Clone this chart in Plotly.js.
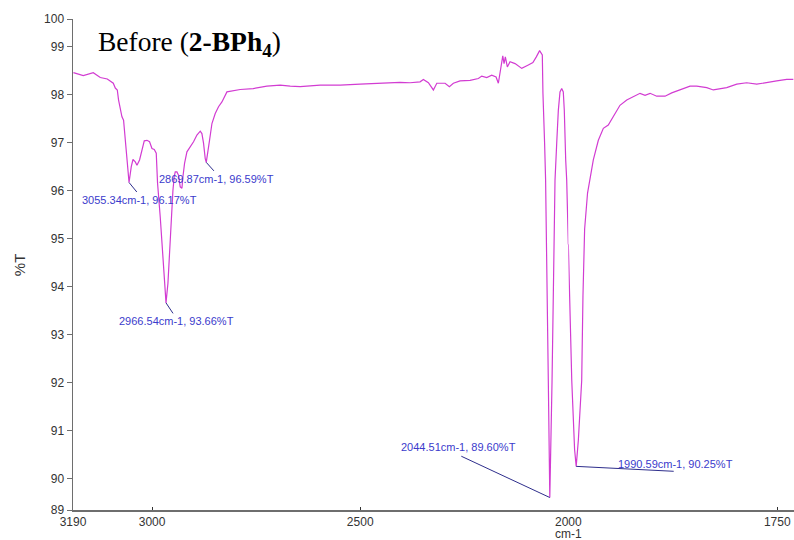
<!DOCTYPE html>
<html>
<head>
<meta charset="utf-8">
<script src="https://cdn.plot.ly/plotly-3.0.1.min.js"></script>
<style>
  html, body { margin: 0; padding: 0; background: #ffffff; }
  #chart { width: 794px; height: 540px; }
</style>
</head>
<body>
<div id="chart"></div>
<script>
// ---- data ----
const wavenumber = [
  3189, 3165.3, 3141.3, 3124.5, 3107.6, 3093.2, 3088.4, 3083.6, 3080.5, 3072.4,
  3068.5, 3064.4, 3060.3, 3056.5, 3055.34, 3050.0, 3045.9, 3040.4, 3036.3, 3030.1,
  3024.3, 3018.8, 3012.3, 3006.1, 3000.3, 2994.8, 2990.0, 2986.9, 2980.4, 2974.9,
  2970.8, 2966.54, 2961.9, 2958.1, 2954.0, 2949.9, 2946.8, 2944.4, 2940.3, 2936.4,
  2932.4, 2928.3, 2925.9, 2922.0, 2916.3, 2908.3, 2900.4, 2892.3, 2884.3, 2880.3,
  2876.4, 2872.3, 2869.87, 2862.0, 2856.2, 2848.3, 2840.4, 2832.2, 2820.2, 2788.3,
  2757.1, 2724.2, 2692.2, 2668.2, 2644.2, 2596.2, 2548.2, 2500.2, 2452.2, 2404.2,
  2380.2, 2356.2, 2348.2, 2336.2, 2324.2, 2316.0, 2296.1, 2285.8, 2276.2, 2260.1,
  2236.0, 2216.1, 2208.0, 2196.0, 2184.0, 2173.6, 2168.1, 2164.0, 2157.5, 2154.4,
  2151.3, 2146.5, 2140.0, 2128.0, 2111.9, 2096.1, 2085.1, 2076.9, 2069.0, 2062.5,
  2061.0, 2057.0, 2054.6, 2048.1, 2044.51, 2039.1, 2032.0, 2027.9, 2024.0, 2020.0,
  2015.9, 2012.1, 2009.7, 2006.3, 2003.9, 2000, 1995.9, 1992.5, 1990.59, 1988.0,
  1984.0, 1982.5, 1980.5, 1977.0, 1974.0, 1970.1, 1964.1, 1958.1, 1952.2, 1946.2,
  1938.2, 1930.1, 1922.2, 1914.2, 1908.2, 1902.2, 1894.2, 1884.3, 1876.3, 1866.4,
  1854.4, 1846.4, 1834.4, 1826.5, 1818.5, 1810.5, 1798.5, 1786.6, 1774.6, 1762.6,
  1750.7, 1738.7, 1730.8
];
const transmittance = [
  98.46, 98.40, 98.46, 98.36, 98.33, 98.24, 98.14, 98.10, 97.89, 97.54,
  97.47, 97.05, 96.64, 96.32, 96.17, 96.50, 96.65, 96.60, 96.53, 96.64,
  96.85, 97.04, 97.05, 97.02, 96.88, 96.86, 96.78, 96.16, 95.45, 94.76,
  94.28, 93.66, 94.07, 94.76, 95.45, 96.01, 96.29, 96.39, 96.39, 96.32,
  96.08, 96.05, 96.29, 96.57, 96.81, 96.91, 97.02, 97.16, 97.24, 97.19,
  96.99, 96.67, 96.59, 97.05, 97.40, 97.61, 97.75, 97.85, 98.06, 98.11,
  98.13, 98.18, 98.20, 98.18, 98.17, 98.20, 98.20, 98.22, 98.24, 98.26,
  98.25, 98.27, 98.32, 98.25, 98.10, 98.24, 98.24, 98.17, 98.24, 98.29,
  98.30, 98.34, 98.39, 98.36, 98.41, 98.37, 98.24, 98.44, 98.81, 98.65,
  98.79, 98.58, 98.69, 98.65, 98.55, 98.62, 98.67, 98.79, 98.92, 98.83,
  98.03, 96.99, 96.22, 92.04, 89.60, 92.04, 96.22, 96.99, 97.68, 98.06,
  98.13, 98.06, 97.68, 96.64, 96.22, 94.88, 92.04, 90.60, 90.25, 90.80,
  92.04, 93.80, 95.20, 95.95, 96.22, 96.64, 97.05, 97.30, 97.37, 97.54,
  97.78, 97.89, 97.96, 98.03, 97.99, 98.03, 97.97, 97.97, 98.04, 98.11,
  98.18, 98.18, 98.15, 98.10, 98.13, 98.15, 98.22, 98.25, 98.22, 98.26,
  98.29, 98.32, 98.32
];
// labelled peaks
const peakWavenumber = [3055.34, 2966.54, 2869.87, 2044.51, 1990.59];
const peakTransmittance = [96.17, 93.66, 96.59, 89.60, 90.25];

// axis ticks
const xTickVals1 = [3190, 3000, 2500, 2000];
const xTickText1 = ['3190', '3000', '2500', '2000'];
const xTickVals2 = [1750];
const xTickText2 = ['1750'];
const yTickVals = [89.34, 90, 91, 92, 93, 94, 95, 96, 97, 98, 99, 99.58];
const yTickText = ['89', '90', '91', '92', '93', '94', '95', '96', '97', '98', '99', '100'];

const titleText = 'Before (<b>2-BPh<sub>4</sub></b>)';
const xTitle = 'cm-1';
const yTitle = '%T';

// ---- styling / layout ----
const SPLIT = 2000;          // scale expansion (2x) below 2000 cm-1
const lineColor = '#d23cd2';
const axisColor = '#6e6e6e';
const labelColor = '#3b3bcc';
const leaderColor = '#2e2e8c';

const w1 = [], t1 = [], w2 = [], t2 = [];
wavenumber.forEach((w, i) => {
  if (w >= SPLIT) { w1.push(w); t1.push(transmittance[i]); }
  if (w <= SPLIT) { w2.push(w); t2.push(transmittance[i]); }
});

const traces = [
  { x: w1, y: t1, xaxis: 'x', yaxis: 'y', type: 'scatter', mode: 'lines',
    line: { color: lineColor, width: 1.2 }, hoverinfo: 'skip', showlegend: false },
  { x: w2, y: t2, xaxis: 'x2', yaxis: 'y', type: 'scatter', mode: 'lines',
    line: { color: lineColor, width: 1.2 }, hoverinfo: 'skip', showlegend: false }
];

// leader line end offsets (px) and label centre offsets (px) for each peak
const leaderOffsets = [[9, 11], [8, 12], [9, 10], [-90, -42], [99, 5]];
const labelShifts = [[10, -17], [10, -18], [10, -17], [-91, 51], [99, 2]];

const annotations = [];
peakWavenumber.forEach((w, i) => {
  const xr = w >= SPLIT ? 'x' : 'x2';
  annotations.push({
    x: w, y: peakTransmittance[i], xref: xr, yref: 'y', text: '',
    showarrow: true, arrowhead: 0, arrowwidth: 1, arrowcolor: leaderColor,
    ax: leaderOffsets[i][0], ay: leaderOffsets[i][1], standoff: 0, startstandoff: 0
  });
  annotations.push({
    x: w, y: peakTransmittance[i], xref: xr, yref: 'y',
    text: w.toFixed(2) + 'cm-1, ' + peakTransmittance[i].toFixed(2) + '%T',
    showarrow: false, xanchor: 'center', yanchor: 'middle',
    xshift: labelShifts[i][0], yshift: labelShifts[i][1],
    font: { family: 'Liberation Sans, Arial, sans-serif', size: 11, color: labelColor }
  });
});

annotations.push({
  xref: 'paper', yref: 'paper', x: 0.032, y: 1, xanchor: 'left', yanchor: 'top',
  yshift: -5, text: titleText, showarrow: false,
  font: { family: 'Liberation Serif, Times New Roman, serif', size: 27.5, color: '#000000' }
});
annotations.push({
  xref: 'x', yref: 'paper', x: 2000, y: 0, xanchor: 'center', yanchor: 'top',
  yshift: -16, text: xTitle, showarrow: false, borderpad: 0,
  font: { family: 'Liberation Sans, Arial, sans-serif', size: 12, color: '#333333' }
});
annotations.push({
  xref: 'paper', yref: 'paper', x: -0.074, y: 0.5, xanchor: 'center', yanchor: 'middle',
  textangle: -90, text: yTitle, showarrow: false,
  font: { family: 'Liberation Sans, Arial, sans-serif', size: 15, color: '#333333' }
});

const tickFont = { family: 'Liberation Sans, Arial, sans-serif', size: 12, color: '#333333' };
const commonX = {
  showline: true, linecolor: axisColor, linewidth: 2, showgrid: false, zeroline: false,
  ticks: 'inside', ticklen: 3, tickcolor: '#333333', tickfont: tickFont, tickmode: 'array',
  anchor: 'y', fixedrange: true
};

const layout = {
  width: 794, height: 540,
  margin: { l: 73, r: 0, t: 19, b: 30 },
  paper_bgcolor: '#ffffff', plot_bgcolor: '#ffffff',
  showlegend: false,
  xaxis: Object.assign({}, commonX, {
    domain: [0, 0.687], range: [3190, 2000],
    tickvals: xTickVals1, ticktext: xTickText1
  }),
  xaxis2: Object.assign({}, commonX, {
    domain: [0.687, 1], range: [2000, 1730],
    tickvals: xTickVals2, ticktext: xTickText2
  }),
  yaxis: {
    range: [89.34, 99.58], showline: true, linecolor: axisColor, linewidth: 1.5,
    showgrid: false, zeroline: false, ticks: 'outside', ticklen: 5, tickcolor: axisColor,
    tickfont: tickFont, tickmode: 'array', tickvals: yTickVals, ticktext: yTickText,
    anchor: 'x', fixedrange: true
  },
  annotations: annotations
};

Plotly.newPlot('chart', traces, layout, { staticPlot: true, displayModeBar: false });
</script>
</body>
</html>
